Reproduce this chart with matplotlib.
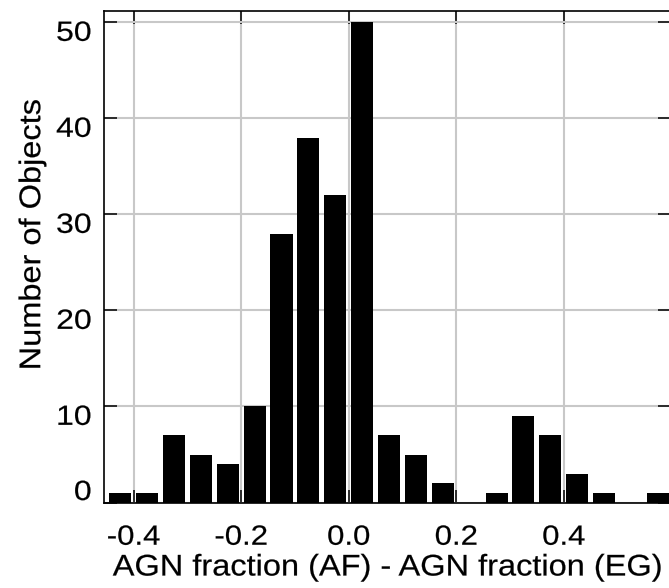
import matplotlib
matplotlib.use("Agg")
import matplotlib.pyplot as plt
import matplotlib.transforms as mtransforms
from matplotlib.patheffects import AbstractPathEffect

plt.rcParams['font.family'] = ['Liberation Sans', 'DejaVu Sans']

# Histogram of AGN fraction differences (bin width 0.05)
bin_centers = [-0.425, -0.375, -0.325, -0.275, -0.225, -0.175, -0.125, -0.075,
               -0.025, 0.025, 0.075, 0.125, 0.175, 0.225, 0.275, 0.325,
               0.375, 0.425, 0.475, 0.525, 0.575]
counts = [1, 1, 7, 5, 4, 10, 28, 38, 32, 50, 7, 5, 2, 0, 1, 9, 7, 3, 1, 0, 1]

x_ticks = [-0.4, -0.2, 0.0, 0.2, 0.4]
x_tick_labels = ['-0.4', '-0.2', '0.0', '0.2', '0.4']
y_ticks = [0, 10, 20, 30, 40, 50]
y_tick_labels = ['0', '10', '20', '30', '40', '50']


class WideGlyphs(AbstractPathEffect):
    """Draw text glyphs widened along the writing direction, with a light outline."""

    def __init__(self, sx, pivot='center', stroke=0.15):
        super().__init__()
        self.sx = sx
        self.pivot = pivot
        self.stroke = stroke

    def draw_path(self, renderer, gc, tpath, affine, rgbFace=None):
        ext = tpath.get_extents()
        if self.pivot == 'right':
            px = ext.x1
        elif self.pivot == 'left':
            px = ext.x0
        else:
            px = 0.5 * (ext.x0 + ext.x1)
        pre = mtransforms.Affine2D().translate(-px, 0).scale(self.sx, 1).translate(px, 0)
        gc0 = renderer.new_gc()
        gc0.copy_properties(gc)
        gc0.set_linewidth(self.stroke)
        if rgbFace is not None:
            gc0.set_foreground(rgbFace)
        renderer.draw_path(gc0, tpath, pre + affine, rgbFace)
        gc0.restore()


fig = plt.figure(figsize=(6.69, 5.88), dpi=100)
ax = fig.add_axes([0.1555, 0.1454, 0.848, 0.836])

ax.bar(bin_centers, counts, width=0.041, color='black', zorder=3)

ax.set_xlim(-0.455, 0.60)
ax.set_ylim(0, 51.2)
ax.set_xticks(x_ticks)
ax.set_xticklabels(x_tick_labels)
ax.set_yticks(y_ticks)
ax.set_yticklabels(y_tick_labels)

ax.grid(True, color='#c8c8c8', linewidth=1.5, zorder=0)
ax.set_axisbelow(True)

ax.tick_params(axis='both', which='both', direction='in', length=9.5,
               width=1.1, top=True, right=True, labelsize=20, color='black')
ax.tick_params(axis='y', pad=9)
ax.tick_params(axis='x', pad=16)
for s in ax.spines.values():
    s.set_linewidth(1.2)

# y labels sit slightly below their grid lines; the zero label is lifted off the axis
for lbl, val in zip(ax.get_yticklabels(), y_ticks):
    dy = 9 if val == 0 else -6
    lbl.set_transform(lbl.get_transform() +
                      mtransforms.ScaledTranslation(0, dy / 72, fig.dpi_scale_trans))
    lbl.set_path_effects([WideGlyphs(1.15, pivot='right')])
for lbl in ax.get_xticklabels():
    lbl.set_path_effects([WideGlyphs(1.12)])

ax.set_xlabel('AGN fraction (AF) - AGN fraction (EG)', fontsize=21.5, labelpad=2,
              path_effects=[WideGlyphs(1.09)])
ax.set_ylabel('Number of Objects', fontsize=21.5, path_effects=[WideGlyphs(1.09)])
ax.yaxis.set_label_coords(-0.102, 0.545)

fig.savefig('out.png', dpi=100)
